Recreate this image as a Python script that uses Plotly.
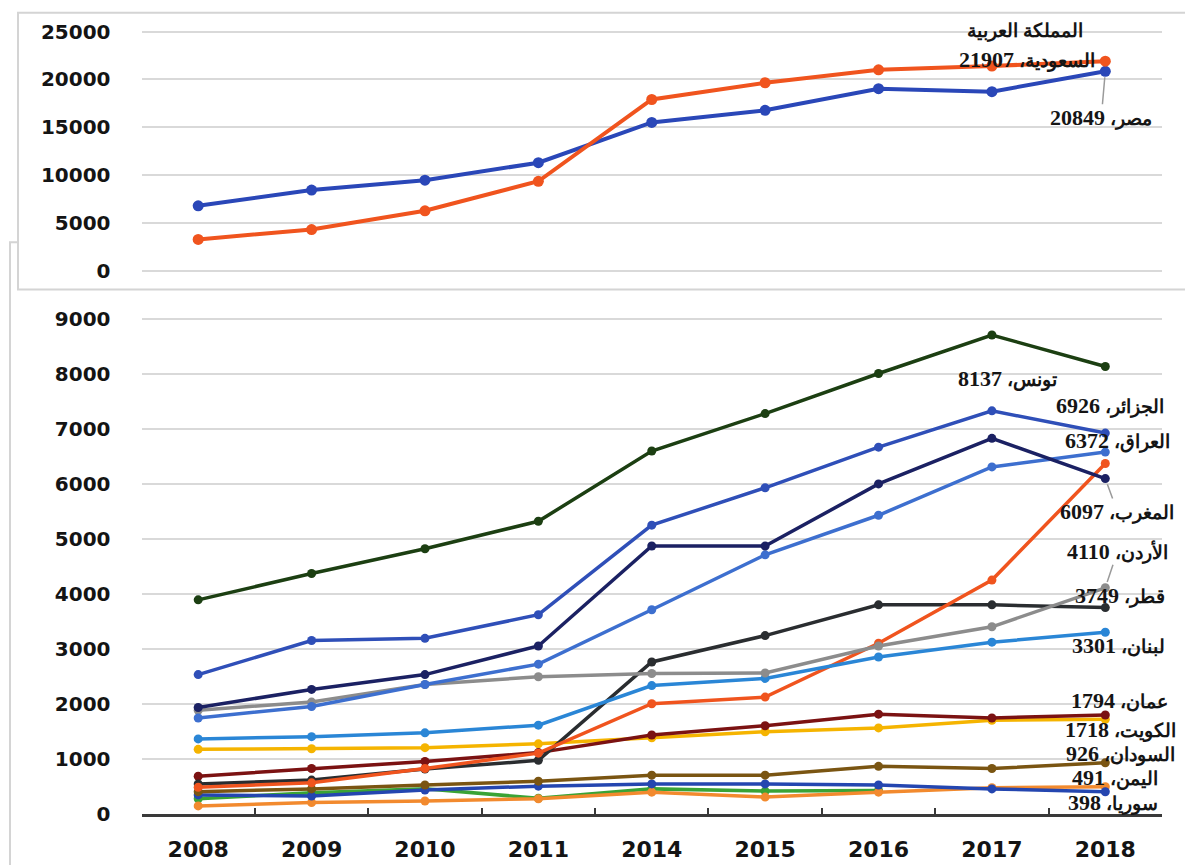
import plotly.graph_objects as go

W, H = 1185, 865

years = ["2008", "2009", "2010", "2011", "2014", "2015", "2016", "2017", "2018"]

# Upper panel: the two largest producers
egypt = [6800, 8440, 9470, 11300, 15500, 16770, 19030, 18720, 20849]
saudi = [3290, 4320, 6280, 9360, 17900, 19650, 21000, 21400, 21907]

# Lower panel: remaining countries
tunisia = [3890, 4370, 4820, 5320, 6600, 7280, 8010, 8710, 8137]
algeria = [2530, 3150, 3190, 3620, 5250, 5930, 6670, 7330, 6926]
morocco = [1930, 2260, 2530, 3050, 4870, 4870, 6000, 6830, 6097]
other_blue = [1740, 1950, 2350, 2720, 3710, 4710, 5430, 6310, 6580]
iraq = [480, 560, 820, 1100, 2000, 2120, 3100, 4250, 6372]
jordan = [1880, 2030, 2350, 2490, 2550, 2560, 3050, 3400, 4110]
qatar = [540, 610, 810, 970, 2760, 3240, 3800, 3800, 3749]
lebanon = [1360, 1400, 1470, 1610, 2330, 2460, 2850, 3120, 3301]
oman = [680, 820, 950, 1110, 1430, 1600, 1810, 1740, 1794]
kuwait = [1170, 1180, 1200, 1270, 1380, 1490, 1560, 1700, 1718]
sudan = [400, 450, 520, 590, 700, 700, 860, 820, 926]
yemen = [140, 200, 230, 270, 390, 300, 390, 470, 491]
syria = [340, 320, 430, 500, 540, 540, 520, 450, 398]
other_green = [270, 380, 450, 280, 450, 410, 420, None, None]

LAST = len(years) - 1


def px(x):
    return x / W


def py(y):
    return 1 - y / H


fig = go.Figure()


def add_line(values, color, axis, width=3.5, msize=9):
    xa, ya = axis
    fig.add_trace(go.Scatter(
        x=years, y=values, mode="lines+markers",
        line=dict(color=color, width=width),
        marker=dict(color=color, size=msize),
        xaxis=xa, yaxis=ya, showlegend=False, hoverinfo="skip",
        connectgaps=False,
    ))


# upper panel
add_line(egypt, "#2a47b8", ("x", "y"), width=4, msize=11)
add_line(saudi, "#f0541e", ("x", "y"), width=4, msize=11)

# lower panel (drawn back to front)
lower = [
    (other_green, "#3aa335"),
    (yemen, "#f28a2e"),
    (syria, "#2446b0"),
    (sudan, "#7a5512"),
    (kuwait, "#f5b400"),
    (oman, "#7b1212"),
    (qatar, "#2a2d30"),
    (iraq, "#f0541e"),
    (lebanon, "#2a86d6"),
    (jordan, "#8c8c8c"),
    (other_blue, "#3d6fcf"),
    (morocco, "#1b2163"),
    (algeria, "#2f4fb8"),
    (tunisia, "#1c3f12"),
]
for vals, col in lower:
    add_line(vals, col, ("x2", "y2"))

tick_font = dict(family="DejaVu Sans", size=20, weight="bold", color="#141414")
grid = "#d9d9d9"

x_dom = [px(141.5), px(1162)]

fig.update_layout(
    width=W, height=H,
    margin=dict(l=0, r=0, t=0, b=0),
    paper_bgcolor="white", plot_bgcolor="rgba(0,0,0,0)",
    xaxis=dict(domain=x_dom, anchor="y", type="category", range=[-0.5, 8.5],
               showticklabels=False, showgrid=False, zeroline=False, ticks=""),
    yaxis=dict(domain=[py(285), py(20)], anchor="x", range=[-1130, 26130],
               tickvals=[0, 5000, 10000, 15000, 20000, 25000], tickformat="d",
               tickfont=tick_font, ticklabelstandoff=30,
               showgrid=True, gridcolor=grid, gridwidth=2, zeroline=False,
               showline=False),
    xaxis2=dict(domain=x_dom, anchor="y2", type="category", range=[-0.5, 8.5],
                tickfont=dict(family="DejaVu Sans", size=22, weight="bold", color="#141414"),
                showgrid=False, zeroline=False, showline=True, linecolor="#3a3a3a",
                linewidth=2.5, ticks="inside", tickson="boundaries", ticklen=6,
                tickcolor="#3a3a3a", tickwidth=2, ticklabelstandoff=14),
    yaxis2=dict(domain=[py(825), py(305)], anchor="x2", range=[0, 9322],
                tickvals=list(range(0, 9001, 1000)), tickformat="d",
                tickfont=tick_font, ticklabelstandoff=30,
                showgrid=True, gridcolor=grid, gridwidth=2, zeroline=False,
                showline=False),
)

# panel frames
fig.add_shape(type="rect", xref="paper", yref="paper",
              x0=px(10), x1=px(1200), y0=py(880), y1=py(245),
              line=dict(color="#d4d4d4", width=2), fillcolor="white", layer="below")
fig.add_shape(type="rect", xref="paper", yref="paper",
              x0=px(18), x1=px(1200), y0=py(293), y1=py(12),
              line=dict(color="#d4d4d4", width=2), fillcolor="white", layer="below")

lab_font = dict(family="Liberation Serif", size=19, weight="bold", color="#151515")


def txt(name, value):
    return f"{name}، <span style='font-size:22px'>{value}</span>"


def label(text, cx, cy):
    fig.add_annotation(text=text, xref="paper", yref="paper", x=px(cx), y=py(cy),
                       xanchor="center", yanchor="middle", showarrow=False,
                       font=lab_font, borderpad=0)


def leader(text, xa, ya, yval, ax, ay):
    fig.add_annotation(text=text, xref=xa, yref=ya, x=LAST, y=yval,
                       ax=ax, ay=ay, showarrow=True, arrowhead=0,
                       arrowcolor="#9a9a9a", arrowwidth=1.5, standoff=6,
                       font=lab_font, borderpad=0)


# upper panel labels
label("المملكة العربية", 1025, 30)
label(txt("السعودية", saudi[-1]), 1027, 59)
leader(txt("مصر", egypt[-1]), "x", "y", egypt[-1], -4, 46)

# lower panel labels
label(txt("تونس", tunisia[-1]), 1007, 383)
label(txt("الجزائر", algeria[-1]), 1110, 411)
label(txt("العراق", iraq[-1]), 1117, 446)
leader(txt("المغرب", morocco[-1]), "x2", "y2", morocco[-1], 12, 33)
leader(txt("الأردن", jordan[-1]), "x2", "y2", jordan[-1], 12, -36)
label(txt("قطر", qatar[-1]), 1120, 604)
label(txt("لبنان", lebanon[-1]), 1118, 654)
label(txt("عمان", oman[-1]), 1119, 710)
label(txt("الكويت", kuwait[-1]), 1120, 740)
label(txt("السودان", sudan[-1]), 1120, 764)
label(txt("اليمن", yemen[-1]), 1115, 788)
label(txt("سوريا", syria[-1]), 1113, 814)

fig.write_html("out.html")
